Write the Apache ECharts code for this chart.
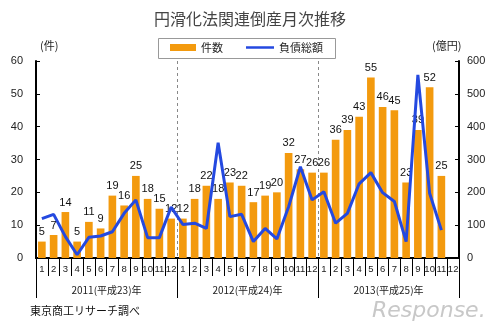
<!DOCTYPE html>
<html>
<head>
<meta charset="utf-8">
<script src="https://cdn.jsdelivr.net/npm/echarts@6/dist/echarts.min.js"></script>
<style>
  html, body { margin: 0; padding: 0; background: #fff; }
  #chart { width: 500px; height: 333px; }
</style>
</head>
<body>
<div id="chart"></div>
<script>
// Month categories (Jan 2011 – Dec 2013)
const months = [];
for (let y = 0; y < 3; y++) for (let m = 1; m <= 12; m++) months.push(String(m));
const years = ['2011(平成23)年', '2012(平成24)年', '2013(平成25)年'];

// Number of bankruptcies (件)
const counts = [
  5, 7, 14, 5, 11, 9, 19, 16, 25, 18, 15, 12,
  12, 18, 22, 18, 23, 22, 17, 19, 20, 32, 27, 26,
  26, 36, 39, 43, 55, 46, 45, 23, 39, 52, 25, null
];
// Total liabilities (億円)
const debt = [
  120, 133, 65, 10, 63, 67, 80, 136, 177, 62, 62, 155,
  102, 106, 90, 351, 126, 133, 50, 90, 58, 156, 278, 177,
  202, 106, 136, 226, 260, 199, 172, 50, 558, 197, 85, null
];
const leftTicks = [0, 60, 10];
const rightTicks = [0, 600, 100];

const FONT = '"Liberation Sans", "Noto Sans CJK JP", sans-serif';
const JP = '"Noto Sans CJK JP", sans-serif';
const BAR_COLOR = '#F39A0E';
const LINE_COLOR = '#2449E0';

const legendText = { fontFamily: JP, fontSize: 11, color: '#222' };

const chart = echarts.init(document.getElementById('chart'), null, { renderer: 'canvas' });
chart.setOption({
  animation: false,
  backgroundColor: '#fff',
  title: {
    text: '円滑化法関連倒産月次推移',
    left: 'center', top: 6,
    textStyle: { fontFamily: JP, fontSize: 16, fontWeight: 'normal', color: '#444' }
  },
  legend: [
    {
      left: 170, top: 42, padding: 0,
      itemWidth: 26, itemHeight: 7, itemGap: 6,
      textStyle: legendText,
      data: [{ name: '件数', icon: 'rect' }]
    },
    {
      left: 246, top: 42, padding: 0,
      itemWidth: 28, itemHeight: 2.5, itemGap: 6,
      textStyle: legendText,
      data: [{ name: '負債総額', icon: 'rect', itemStyle: { color: LINE_COLOR } }]
    }
  ],
  grid: { left: 36, right: 41, top: 61, bottom: 75 },
  xAxis: [
    {
      type: 'category', data: months, position: 'bottom',
      axisLine: { lineStyle: { color: '#000', width: 2 } },
      axisTick: { show: true, length: 18, interval: 0, lineStyle: { color: '#000' } },
      axisLabel: { interval: 0, margin: 7, fontSize: 9.5, color: '#222', fontFamily: FONT }
    },
    {
      type: 'category', data: years, position: 'bottom',
      axisLine: { show: true, lineStyle: { color: '#000', width: 2 } },
      axisTick: { show: true, length: 40, lineStyle: { color: '#000' } },
      axisLabel: { margin: 27, fontSize: 10, color: '#222', fontFamily: JP },
      splitLine: { show: true, lineStyle: { color: '#888', type: [3, 3], width: 1 } }
    }
  ],
  yAxis: [
    {
      type: 'value', min: leftTicks[0], max: leftTicks[1], interval: leftTicks[2],
      axisLine: { show: true, lineStyle: { color: '#000', width: 2 } },
      axisTick: { show: true, inside: true, length: 4, lineStyle: { color: '#000' } },
      axisLabel: { margin: 13, fontSize: 11, color: '#222', fontFamily: FONT },
      splitLine: { show: false }
    },
    {
      type: 'value', min: rightTicks[0], max: rightTicks[1], interval: rightTicks[2],
      position: 'right',
      axisLine: { show: true, lineStyle: { color: '#000', width: 2 } },
      axisTick: { show: true, inside: true, length: 4, lineStyle: { color: '#000' } },
      axisLabel: { margin: 8, fontSize: 11, color: '#222', fontFamily: FONT },
      splitLine: { show: false }
    }
  ],
  graphic: [
    { type: 'rect', shape: { x: 158.5, y: 38.5, width: 177, height: 20 }, style: { fill: 'none', stroke: '#999', lineWidth: 1 } },
    { type: 'text', left: 40, top: 40, style: { text: '(件)', font: '11px ' + JP, fill: '#222' } },
    { type: 'text', left: 432, top: 40, style: { text: '(億円)', font: '11px ' + JP, fill: '#222' } },
    { type: 'text', left: 30, top: 305, style: { text: '東京商工リサーチ調べ', font: '11px ' + JP, fill: '#111' } },
    { type: 'text', left: 372, top: 300, style: { text: 'Response.', font: 'italic 22px "DejaVu Sans", sans-serif', fill: '#c8c8c8' } }
  ],
  series: [
    {
      name: '件数', type: 'bar', xAxisIndex: 0, yAxisIndex: 0,
      data: counts, barCategoryGap: '35%',
      itemStyle: { color: BAR_COLOR },
      label: { show: true, position: 'top', distance: 4, fontSize: 11, color: '#111', fontFamily: FONT }
    },
    {
      name: '負債総額', type: 'line', xAxisIndex: 0, yAxisIndex: 1,
      data: debt, symbol: 'none',
      lineStyle: { color: LINE_COLOR, width: 3 },
      itemStyle: { color: LINE_COLOR },
      z: 5
    }
  ]
});
</script>
</body>
</html>
